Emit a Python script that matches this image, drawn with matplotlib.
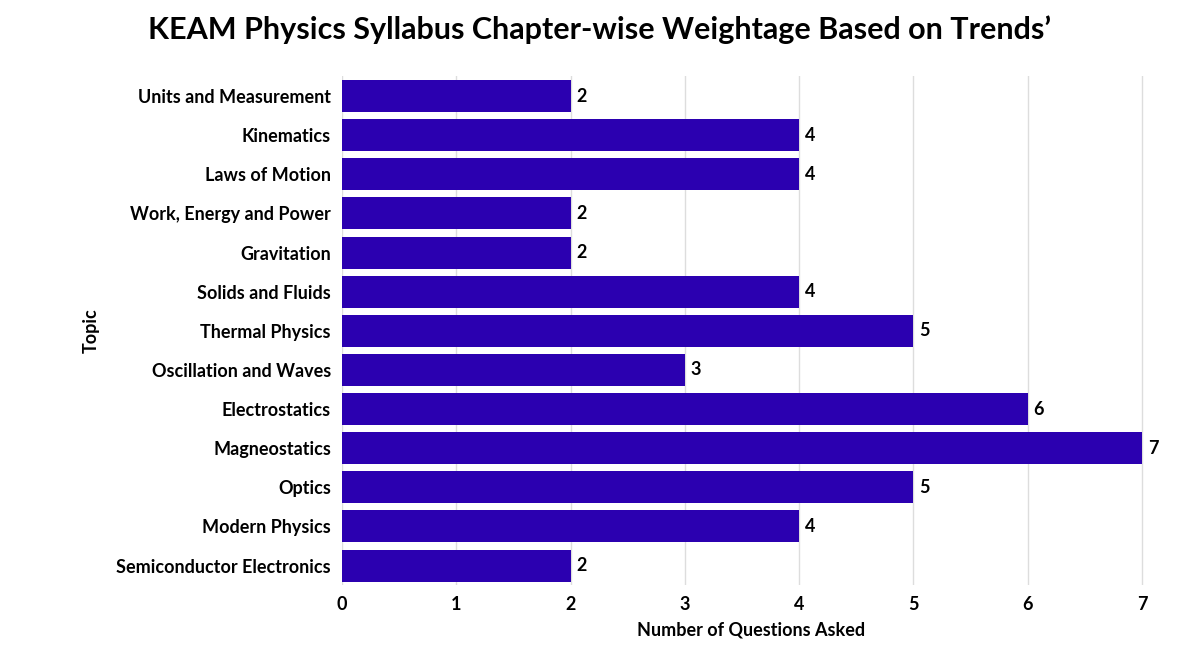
import matplotlib
matplotlib.use("Agg")
import matplotlib.pyplot as plt

topics = ["Units and Measurement","Kinematics","Laws of Motion","Work, Energy and Power",
          "Gravitation","Solids and Fluids","Thermal Physics","Oscillation and Waves",
          "Electrostatics","Magneostatics","Optics","Modern Physics","Semiconductor Electronics"]
values = [2,4,4,2,2,4,5,3,6,7,5,4,2]
xticks = [0,1,2,3,4,5,6,7]

plt.rcParams['font.family'] = ['Lato', 'DejaVu Sans']
fig = plt.figure(figsize=(12, 6.48), dpi=100)
ax = fig.add_axes([0.285, 0.097, 0.681, 0.785])
y = list(range(len(topics)))
ax.barh(y, values, height=0.82, color="#2b00b0")
for yi, v in zip(y, values):
    ax.text(v + 0.05, yi, str(v), va="center", ha="left", fontsize=13, fontweight="bold")
ax.set_yticks(y)
ax.set_yticklabels(topics, fontsize=13, fontweight="bold")
ax.set_ylim(len(topics) - 0.5, -0.5)
ax.set_xlim(0, 7.15)
ax.set_xticks(xticks)
ax.set_xticklabels([str(t) for t in xticks], fontsize=13, fontweight="bold")
ax.tick_params(length=0, pad=8)
ax.grid(axis="x", color="#dddddd", linewidth=1)
ax.set_axisbelow(True)
for s in ax.spines.values():
    s.set_visible(False)
ax.set_xlabel("Number of Questions Asked", fontsize=13, fontweight="bold", labelpad=6)
ax.set_ylabel("Topic", fontsize=13, fontweight="bold", labelpad=12)
fig.text(0.5, 0.955, "KEAM Physics Syllabus Chapter-wise Weightage Based on Trends’",
         ha="center", va="center", fontsize=22, fontweight="bold")
fig.savefig("out.png", dpi=100, facecolor="white")
